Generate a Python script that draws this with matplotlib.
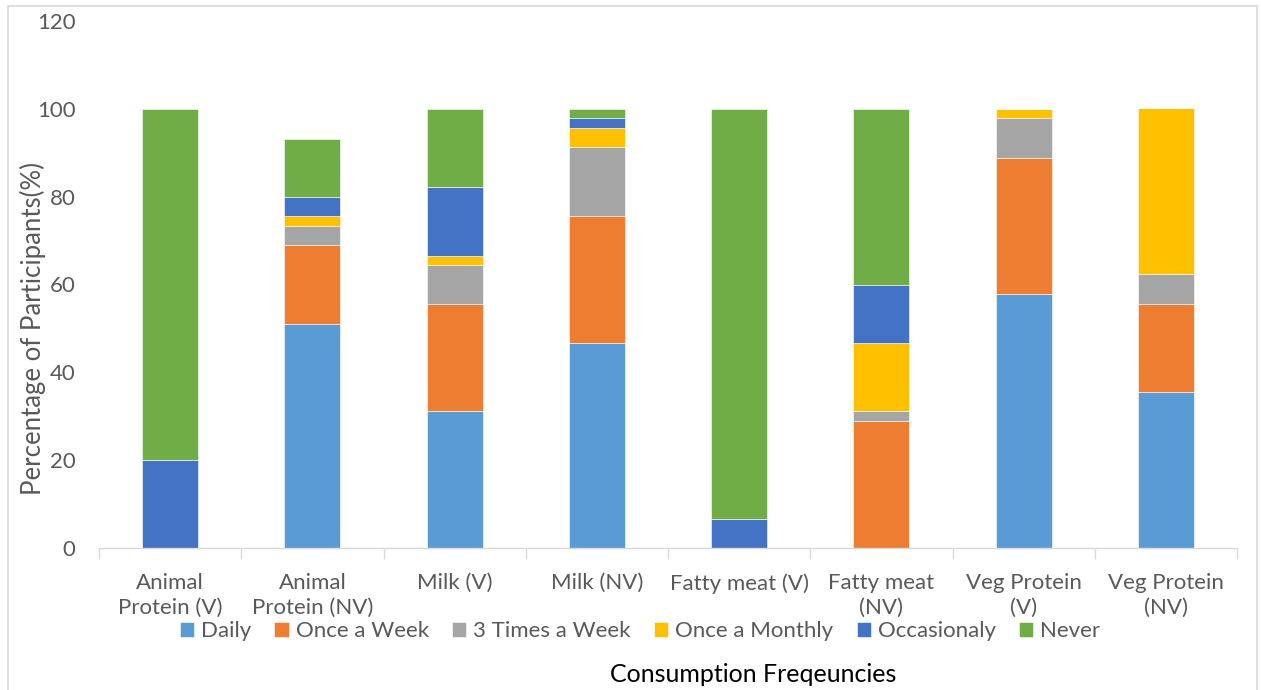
import matplotlib
matplotlib.use("Agg")
import matplotlib.pyplot as plt
from matplotlib.patches import Rectangle
import numpy as np

plt.rcParams['font.family'] = ['Lato', 'DejaVu Sans']

categories = ["Animal\nProtein (V)", "Animal\nProtein (NV)", "Milk (V)", "Milk (NV)",
              "Fatty meat (V)", "Fatty meat\n(NV)", "Veg Protein\n(V)", "Veg Protein\n(NV)"]

series_names = ["Daily", "Once a Week", "3 Times a Week", "Once a Monthly", "Occasionaly", "Never"]
daily        = [0.0, 51.1, 31.1, 46.7, 0.0, 0.0, 57.8, 35.6]
once_week    = [0.0, 17.8, 24.4, 28.9, 0.0, 28.9, 31.1, 20.0]
three_week   = [0.0, 4.4, 8.9, 15.6, 0.0, 2.2, 8.9, 6.7]
once_monthly = [0.0, 2.2, 2.2, 4.4, 0.0, 15.6, 2.2, 37.8]
occasionaly  = [20.0, 4.4, 15.6, 2.2, 6.7, 13.3, 0.0, 0.0]
never        = [80.0, 13.3, 17.8, 2.2, 93.3, 40.0, 0.0, 0.0]

colors = ["#5B9BD5", "#ED7D31", "#A5A5A5", "#FFC000", "#4472C4", "#70AD47"]
text_color = "#595959"
W, H = 1261, 690

fig = plt.figure(figsize=(W / 100, H / 100), dpi=100)
ax = fig.add_axes([99 / W, 1 - 548 / H, (1237 - 99) / W, (548 - 21) / H])

x = np.arange(len(categories))
bottom = np.zeros(len(categories))
handles = []
for name, vals, col in zip(series_names,
                           [daily, once_week, three_week, once_monthly, occasionaly, never],
                           colors):
    vals = np.array(vals)
    b = ax.bar(x, vals, width=0.395, bottom=bottom, color=col, label=name,
               edgecolor="white", linewidth=0.4)
    handles.append(b)
    bottom += vals

ax.set_xlim(-0.5, len(categories) - 0.5)
ax.set_ylim(0, 120)
ax.set_yticks(np.arange(0, 121, 20))
ax.tick_params(axis="y", length=0, labelsize=16, labelcolor=text_color, pad=17)
ax.set_xticks(x)
ax.set_xticklabels(categories, fontsize=16, color=text_color, linespacing=1.3)
ax.set_xticks(np.arange(-0.5, len(categories)), minor=True)
ax.tick_params(axis="x", which="major", length=0, pad=18)
ax.tick_params(axis="x", which="minor", length=8, width=1, color="#D9D9D9")

for side in ["top", "right", "left"]:
    ax.spines[side].set_visible(False)
ax.spines["bottom"].set_color("#D9D9D9")
ax.spines["bottom"].set_linewidth(1)

fig.text(33 / W, 1 - 328 / H, "Percentage of Participants(%)", rotation=90,
         ha="center", va="center", fontsize=18.5, color=text_color)
fig.text(753 / W, 1 - 675 / H, "Consumption Freqeuncies", ha="center", va="center",
         fontsize=18, color="black")

leg = fig.legend(handles=handles, labels=series_names, loc="center",
                 bbox_to_anchor=(640 / W, 1 - 631 / H), ncol=6, frameon=False,
                 fontsize=16, handlelength=0.65, handleheight=0.65, handletextpad=0.3,
                 columnspacing=1.05, labelcolor=text_color)

fig.patches.append(Rectangle((8 / W, -0.05), (1257 - 8) / W, 1.05 - 6 / H,
                             transform=fig.transFigure, fill=False,
                             edgecolor="#D9D9D9", linewidth=1.2))

fig.savefig("out.png", dpi=100)
